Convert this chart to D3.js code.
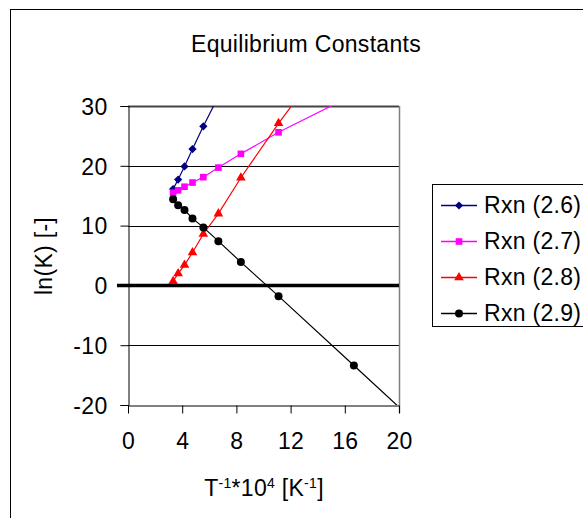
<!DOCTYPE html>
<html>
<head>
<meta charset="utf-8">
<script src="https://cdn.jsdelivr.net/npm/d3@7"></script>
<style>
    body { margin: 0; background: #fff; }
    svg text { font-family: "Liberation Sans", Arial, sans-serif; font-size: 23px; letter-spacing: 0.3px; fill: #000; }
</style>
</head>
<body>
<div id="chart-area"></div>
<script>

// inverse temperature, T^-1 * 10^4  (T = 3000, 2700, 2400, 2100, 1800, 1500, 1200, 900, 600, 400 K)
const invT = [3.33, 3.70, 4.17, 4.76, 5.56, 6.67, 8.33, 11.11, 16.67, 25];

// ln(K) per reaction, null = no point
const rxn26 = [16.1, 17.7, 19.9, 22.8, 26.6, 31.6, null, null, null, null];
const rxn27 = [15.5, 15.9, 16.5, 17.2, 18.1, 19.7, 22.0, 25.6, 31.9, null];
const rxn28 = [0.7, 2.0, 3.4, 5.5, 8.6, 12.0, 18.0, 27.1, 44.0, null];
const rxn29 = [14.4, 13.4, 12.6, 11.2, 9.7, 7.4, 3.9, -1.8, -13.4, -30.8];

const seriesNames = ["Rxn (2.6)", "Rxn (2.7)", "Rxn (2.8)", "Rxn (2.9)"];
const xTicks = [0, 4, 8, 12, 16, 20];
const yTicks = [-20, -10, 0, 10, 20, 30];


class EqChart {

    constructor(_parentElement) {
        this.parentElement = _parentElement;
        this.initVis();
    }

    initVis() {
        let vis = this;

        vis.width = 583;
        vis.height = 518;
        vis.plot = {left: 128, right: 399, top: 106, bottom: 405};

        vis.svg = d3.select("#" + vis.parentElement).append("svg")
            .attr("width", vis.width)
            .attr("height", vis.height);

        // chart area frame (runs off the right / bottom edge)
        vis.svg.append("rect")
            .attr("x", 10.5).attr("y", 9.5)
            .attr("width", 620).attr("height", 540)
            .attr("fill", "none").attr("stroke", "#000");

        vis.svg.append("text")
            .attr("x", 306).attr("y", 52)
            .attr("text-anchor", "middle")
            .text("Equilibrium Constants");

        vis.x = d3.scaleLinear().domain([0, 20]).range([vis.plot.left, vis.plot.right]);
        vis.y = d3.scaleLinear().domain([-20, 30]).range([vis.plot.bottom, vis.plot.top]);

        vis.svg.append("defs").append("clipPath")
            .attr("id", "clip")
            .append("rect")
            .attr("x", vis.plot.left).attr("y", vis.plot.top)
            .attr("width", vis.plot.right - vis.plot.left)
            .attr("height", vis.plot.bottom - vis.plot.top);

        // gridlines
        vis.svg.append("g")
            .selectAll("line")
            .data(yTicks.filter(d => d !== 0 && d !== -20))
            .join("line")
            .attr("x1", vis.plot.left).attr("x2", vis.plot.right)
            .attr("y1", d => Math.round(vis.y(d)) + 0.5)
            .attr("y2", d => Math.round(vis.y(d)) + 0.5)
            .attr("stroke", d => d === 30 ? "#444" : "#000")
            .attr("stroke-width", d => d === 30 ? 2 : 1);

        // plot area right border
        vis.svg.append("line")
            .attr("x1", vis.plot.right + 0.5).attr("x2", vis.plot.right + 0.5)
            .attr("y1", vis.plot.top).attr("y2", vis.plot.bottom + 8)
            .attr("stroke", "#808080").attr("stroke-width", 1.5);

        // y axis
        let yAxis = d3.axisLeft(vis.y).tickValues(yTicks).tickFormat(d => String(d))
            .tickSize(8).tickPadding(13);
        vis.svg.append("g")
            .attr("class", "y-axis")
            .attr("transform", "translate(" + (vis.plot.left + 0.5) + ",0)")
            .call(yAxis)
            .call(g => g.select(".domain").attr("stroke", "#000"))
            .call(g => g.selectAll("text").attr("font-size", null).attr("font-family", null)
                .attr("dy", "0.36em"));

        // x axis
        let xAxis = d3.axisBottom(vis.x).tickValues(xTicks).tickFormat(d => String(d))
            .tickSize(8).tickPadding(19).tickSizeOuter(0);
        vis.svg.append("g")
            .attr("class", "x-axis")
            .attr("transform", "translate(0," + (vis.plot.bottom + 0.5) + ")")
            .call(xAxis)
            .call(g => g.selectAll("text").attr("font-size", null).attr("font-family", null)
                .attr("dy", "0.71em"));

        // thick zero line
        vis.svg.append("line")
            .attr("x1", vis.plot.left - 11).attr("x2", vis.plot.right)
            .attr("y1", vis.y(0)).attr("y2", vis.y(0))
            .attr("stroke", "#000").attr("stroke-width", 3.5);

        // axis titles
        let xt = vis.svg.append("text")
            .attr("x", 264).attr("y", 496)
            .attr("text-anchor", "middle");
        xt.append("tspan").text("T");
        xt.append("tspan").attr("dy", -8).attr("font-size", 14).text("-1");
        xt.append("tspan").attr("dy", 8).text("*10");
        xt.append("tspan").attr("dy", -8).attr("font-size", 14).text("4");
        xt.append("tspan").attr("dy", 8).text(" [K");
        xt.append("tspan").attr("dy", -8).attr("font-size", 14).text("-1");
        xt.append("tspan").attr("dy", 8).text("]");

        vis.svg.append("text")
            .attr("transform", "translate(52,256) rotate(-90)")
            .attr("text-anchor", "middle")
            .text("ln(K) [-]");

        vis.series = [
            {name: seriesNames[0], values: rxn26, color: "#000080", symbol: "diamond"},
            {name: seriesNames[1], values: rxn27, color: "#FF00FF", symbol: "square"},
            {name: seriesNames[2], values: rxn28, color: "#FF0000", symbol: "triangle"},
            {name: seriesNames[3], values: rxn29, color: "#000000", symbol: "circle"}
        ];

        vis.updateVis();
        vis.drawLegend();
    }

    marker(sel, s) {
        if (s.symbol === "diamond") {
            sel.attr("d", d3.symbol(d3.symbolSquare, 34)());
        } else if (s.symbol === "square") {
            sel.attr("d", d3.symbol(d3.symbolSquare, 44)());
        } else if (s.symbol === "triangle") {
            sel.attr("d", d3.symbol(d3.symbolTriangle, 40)());
        } else {
            sel.attr("d", d3.symbol(d3.symbolCircle, 50)());
        }
        sel.attr("fill", s.color);
    }

    updateVis() {
        let vis = this;

        let g = vis.svg.append("g").attr("clip-path", "url(#clip)");

        let line = d3.line()
            .defined(d => d[1] !== null)
            .x(d => vis.x(d[0]))
            .y(d => vis.y(d[1]));

        vis.series.forEach(s => {
            let pts = invT.map((t, i) => [t, s.values[i]]);
            g.append("path")
                .datum(pts)
                .attr("d", line)
                .attr("fill", "none")
                .attr("stroke", s.color)
                .attr("stroke-width", 1.2);

            g.selectAll(null)
                .data(pts.filter(d => d[1] !== null))
                .join("path")
                .call(sel => vis.marker(sel, s))
                .attr("transform", d => "translate(" + vis.x(d[0]) + "," + vis.y(d[1]) + ")" +
                    (s.symbol === "diamond" ? " rotate(45)" : ""));
        });
    }

    drawLegend() {
        let vis = this;

        let lg = vis.svg.append("g").attr("class", "legend");
        lg.append("rect")
            .attr("x", 432.5).attr("y", 184.5)
            .attr("width", 200).attr("height", 142)
            .attr("fill", "#fff").attr("stroke", "#000");

        vis.series.forEach((s, i) => {
            let yy = 205 + i * 36;
            lg.append("line")
                .attr("x1", 441).attr("x2", 477)
                .attr("y1", yy + 0.5).attr("y2", yy + 0.5)
                .attr("stroke", s.color).attr("stroke-width", 1.5);
            lg.append("path")
                .call(sel => vis.marker(sel, s))
                .attr("transform", "translate(459," + (yy + 0.5) + ")" + (s.symbol === "diamond" ? " rotate(45)" : ""));
            lg.append("text")
                .attr("x", 484).attr("y", yy + 8)
                .text(s.name);
        });
    }
}

new EqChart("chart-area");

</script>
</body>
</html>
